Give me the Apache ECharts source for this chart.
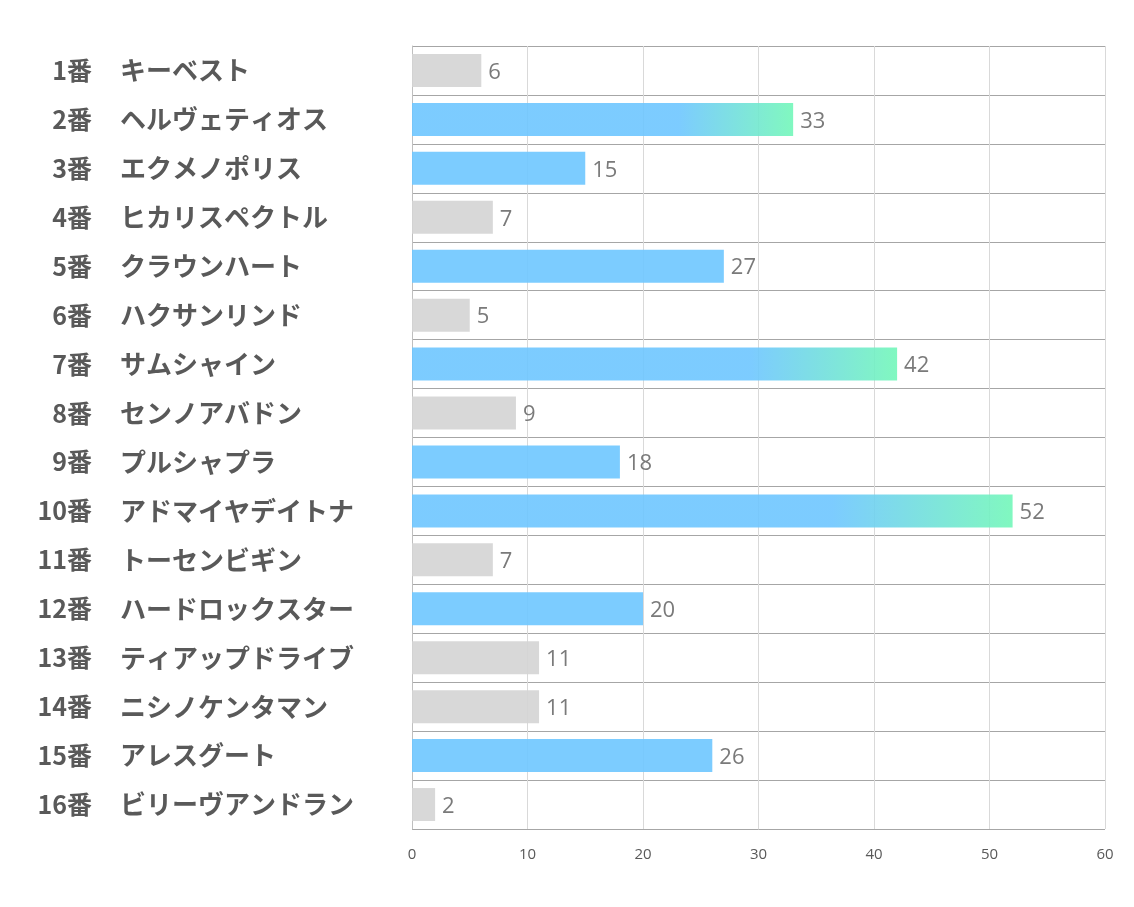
<!DOCTYPE html>
<html>
<head>
<meta charset="utf-8">
<script src="https://cdn.jsdelivr.net/npm/echarts@6/dist/echarts.min.js"></script>
<style>html,body{margin:0;padding:0;background:#fff;}#c{width:1134px;height:907px;}</style>
</head>
<body>
<div id="c"></div>
<script>
const numbers = ['1番','2番','3番','4番','5番','6番','7番','8番','9番','10番','11番','12番','13番','14番','15番','16番'];
const names = ['キーベスト','ヘルヴェティオス','エクメノポリス','ヒカリスペクトル','クラウンハート','ハクサンリンド','サムシャイン','センノアバドン','プルシャプラ','アドマイヤデイトナ','トーセンビギン','ハードロックスター','ティアップドライブ','ニシノケンタマン','アレスグート','ビリーヴアンドラン'];
const values = [6,33,15,7,27,5,42,9,18,52,7,20,11,11,26,2];
const xTicks = [0,10,20,30,40,50,60];

const GRAY = 'rgba(212,212,212,0.9)';
const BLUE = 'rgba(110,198,255,0.9)';
const GREEN = 'rgba(115,247,185,0.9)';
function barColor(v){
  if (v >= 30) return new echarts.graphic.LinearGradient(0,0,1,0,[{offset:0,color:BLUE},{offset:0.7,color:BLUE},{offset:1,color:GREEN}]);
  if (v >= 15) return BLUE;
  return GRAY;
}
const numFont = {fontSize:25,fontWeight:'bold',color:'#595959',fontFamily:'Noto Sans CJK JP'};
const nameFont = {fontSize:26,fontWeight:'bold',color:'#595959',fontFamily:'Noto Sans CJK JP'};
const chart = echarts.init(document.getElementById('c'), null, {renderer:'canvas'});
chart.setOption({
  animation:false,
  grid:{left:412,right:29,top:46,bottom:78,containLabel:false},
  xAxis:{
    type:'value',min:xTicks[0],max:xTicks[xTicks.length-1],interval:10,
    axisLine:{show:false},axisTick:{show:false},
    splitLine:{show:true,lineStyle:{color:'#d9d9d9',width:1}},
    axisLabel:{color:'#595959',fontSize:15,margin:18,fontFamily:'Open Sans'}
  },
  yAxis:[{
    type:'category',inverse:true,data:numbers,position:'left',
    axisLine:{show:true,lineStyle:{color:'#bfbfbf'}},
    axisTick:{show:false},
    splitLine:{show:true,lineStyle:{color:'#a6a6a6',width:1}},
    axisLabel:Object.assign({margin:320,align:'right'},numFont)
  },{
    type:'category',inverse:true,data:names,position:'left',offset:0,
    axisLine:{show:false},axisTick:{show:false},splitLine:{show:false},
    axisLabel:Object.assign({margin:292,align:'left'},nameFont)
  }],
  series:[{
    type:'bar',barWidth:33,yAxisIndex:0,
    data:values.map(v=>({value:v,itemStyle:{color:barColor(v)}})),
    label:{show:true,position:'right',distance:7,offset:[0,2],color:'#7a7a7a',fontSize:22,fontFamily:'Open Sans'}
  }]
});
</script>
</body>
</html>
